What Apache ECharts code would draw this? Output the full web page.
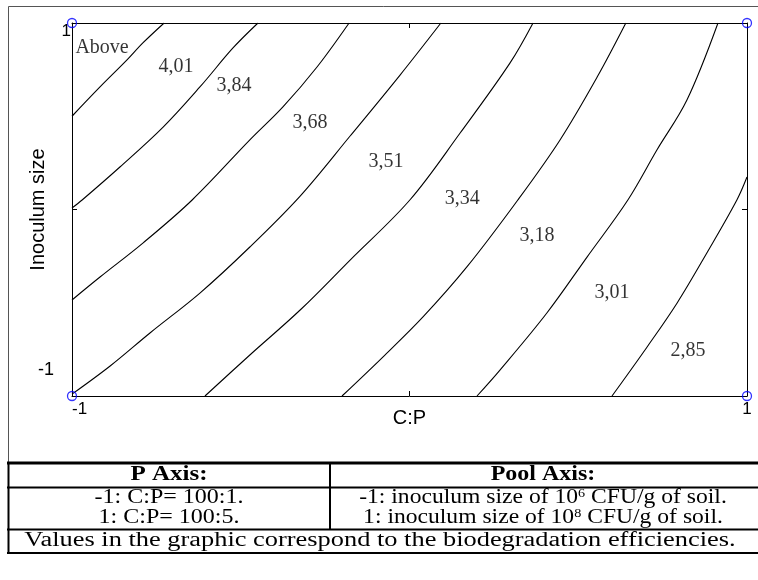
<!DOCTYPE html>
<html>
<head>
<meta charset="utf-8">
<script src="https://cdn.jsdelivr.net/npm/echarts@6/dist/echarts.min.js"></script>
<style>
  html, body { margin: 0; padding: 0; background: #ffffff; }
  #main { width: 758px; height: 580px; }
</style>
</head>
<body>
<div id="main"></div>
<script>
// Coded factors: C:P ratio (x) and inoculum size (y), both from -1 to 1
const xTicks = [-1, 1];
const xTickText = ['-1', '1'];
const yTicks = [-1, 1];
const yTickText = ['-1', '1'];

// Iso-efficiency lines, each as [C:P, inoculum] pairs
const iso1 = [[-1, 0.50], [-0.917, 0.657], [-0.837, 0.802], [-0.79, 0.893], [-0.727, 1]];
const iso2 = [[-1, 0.008], [-0.970, 0.051], [-0.858, 0.228], [-0.730, 0.442], [-0.621, 0.657], [-0.523, 0.866], [-0.449, 1]];
const iso3 = [[-1, -0.485], [-0.917, -0.362], [-0.790, -0.180], [-0.644, 0.051], [-0.473, 0.373], [-0.375, 0.550], [-0.274, 0.764], [-0.179, 1]];
const iso4 = [[-1, -0.99], [-0.887, -0.839], [-0.769, -0.662], [-0.621, -0.448], [-0.473, -0.201], [-0.324, 0.072], [-0.176, 0.394], [-0.028, 0.721], [0.093, 1]];
const iso5 = [[-0.606, -1], [-0.473, -0.780], [-0.324, -0.539], [-0.176, -0.271], [0.001, 0.051], [0.150, 0.410], [0.298, 0.786], [0.366, 1]];
const iso6 = [[-0.2, -1], [-0.079, -0.791], [0.040, -0.576], [0.170, -0.308], [0.321, 0.051], [0.446, 0.373], [0.556, 0.710], [0.641, 1]];
const iso7 = [[0.2, -1], [0.268, -0.861], [0.407, -0.555], [0.526, -0.255], [0.647, 0.051], [0.733, 0.319], [0.822, 0.587], [0.914, 1]];
const iso8 = [[0.6, -1], [0.704, -0.737], [0.793, -0.501], [0.881, -0.233], [0.970, 0.051], [1, 0.174]];
const isoLines = [iso1, iso2, iso3, iso4, iso5, iso6, iso7, iso8];

// Efficiency band labels and where each one sits
const bandLabels = ['Above', '4,01', '3,84', '3,68', '3,51', '3,34', '3,18', '3,01', '2,85'];
const bandAnchors = [[-0.911, 0.866], [-0.692, 0.764], [-0.520, 0.662], [-0.295, 0.464], [-0.070, 0.255],
                     [0.156, 0.056], [0.378, -0.142], [0.600, -0.448], [0.825, -0.759]];

// Design corner points
const cornerPoints = [[-1, 1], [1, 1], [-1, -1], [1, -1]];

// Legend table text
const tableHead = ['P Axis:', 'Pool Axis:'];
const pRows = ['-1: C:P= 100:1.', '1: C:P= 100:5.'];
const poolRows = ['-1: inoculum size of 10{sup|6} CFU/g of soil.', '1: inoculum size of 10{sup|8} CFU/g of soil.'];
const footNote = 'Values in the graphic correspond to the biodegradation efficiencies.';

const SANS = '"Liberation Sans", Arial, sans-serif';
const SERIF = '"Liberation Serif", "Times New Roman", serif';

function tickText(ticks, texts) {
  return function (v) {
    const i = ticks.indexOf(v);
    return i < 0 ? '' : texts[i];
  };
}

const chart = echarts.init(document.getElementById('main'), null, { renderer: 'canvas' });

const lineSeries = isoLines.map(function (pts) {
  return {
    type: 'line',
    data: pts,
    smooth: 0.35,
    showSymbol: false,
    symbol: 'none',
    silent: true,
    lineStyle: { color: '#000', width: 1.1 },
    z: 3
  };
});

const tableText = { fontFamily: SERIF, fontSize: 20, fill: '#000', align: 'center', verticalAlign: 'middle' };
function txt(text, x, y, sx, extra) {
  return { type: 'text', x: x, y: y, scaleX: sx, silent: true, style: Object.assign({ text: text }, tableText, extra || {}) };
}
function hline(x1, x2, y, w) {
  return { type: 'line', silent: true, shape: { x1: x1, y1: y, x2: x2, y2: y }, style: { stroke: '#000', lineWidth: w } };
}
function vline(x, y1, y2, w) {
  return { type: 'line', silent: true, shape: { x1: x, y1: y1, x2: x, y2: y2 }, style: { stroke: '#000', lineWidth: w } };
}
const supRich = { sup: { fontFamily: SERIF, fontSize: 12, verticalAlign: 'top', fill: '#000' } };

const option = {
  animation: false,
  backgroundColor: '#ffffff',
  grid: { left: 72, right: 11, top: 23, bottom: 184, show: false },
  xAxis: [
    {
      type: 'value', min: -1, max: 1, interval: 1, position: 'bottom',
      axisLine: { show: true, onZero: false, lineStyle: { color: '#000', width: 1 } },
      axisTick: { show: true, inside: true, length: 5, lineStyle: { color: '#000' } },
      splitLine: { show: false },
      axisLabel: {
        formatter: tickText(xTicks, xTickText), fontFamily: SANS, fontSize: 17, color: '#000', margin: 5,
        showMinLabel: true, showMaxLabel: true, alignMinLabel: 'left', alignMaxLabel: 'center'
      },
      name: 'C:P', nameLocation: 'middle', nameGap: 12, nameMoveOverlap: false,
      nameTextStyle: { fontFamily: SANS, fontSize: 20, color: '#000', verticalAlign: 'top' }
    },
    {
      type: 'value', min: -1, max: 1, interval: 1, position: 'top',
      axisLine: { show: true, onZero: false, lineStyle: { color: '#000', width: 1 } },
      axisTick: { show: true, inside: true, length: 5, lineStyle: { color: '#000' } },
      splitLine: { show: false }, axisLabel: { show: false }
    }
  ],
  yAxis: [
    {
      type: 'value', min: -1, max: 1, interval: 1, position: 'left',
      axisLine: { show: true, onZero: false, lineStyle: { color: '#000', width: 1 } },
      axisTick: { show: true, inside: true, length: 5, lineStyle: { color: '#000' } },
      splitLine: { show: false },
      axisLabel: {
        formatter: function (v) {
          const t = tickText(yTicks, yTickText)(v);
          return v === yTicks[0] ? '{lo|' + t + '}' : t;
        },
        rich: { lo: { fontFamily: SANS, fontSize: 18, color: '#000', padding: [0, 17, 17, 0] } },
        fontFamily: SANS, fontSize: 17, color: '#000', margin: 1,
        showMinLabel: true, showMaxLabel: true, verticalAlignMinLabel: 'bottom', verticalAlignMaxLabel: 'top'
      },
      name: 'Inoculum size', nameLocation: 'middle', nameGap: 24, nameMoveOverlap: false,
      nameTextStyle: { fontFamily: SANS, fontSize: 20, color: '#000' }
    },
    {
      type: 'value', min: -1, max: 1, interval: 1, position: 'right',
      axisLine: { show: true, onZero: false, lineStyle: { color: '#000', width: 1 } },
      axisTick: { show: true, inside: true, length: 5, lineStyle: { color: '#000' } },
      splitLine: { show: false }, axisLabel: { show: false }
    }
  ],
  series: lineSeries.concat([
    {
      type: 'scatter',
      data: bandAnchors.map(function (p, i) { return { value: p, name: bandLabels[i] }; }),
      symbolSize: 1,
      silent: true,
      itemStyle: { color: 'rgba(0,0,0,0)' },
      label: { show: true, position: 'inside', formatter: '{b}', fontFamily: SERIF, fontSize: 20, color: '#000' },
      z: 4
    },
    {
      type: 'scatter',
      data: cornerPoints,
      symbol: 'circle',
      symbolSize: 9,
      clip: false,
      silent: true,
      itemStyle: { color: 'rgba(0,0,0,0)', borderColor: '#0000ff', borderWidth: 1.3 },
      z: 6
    }
  ]),
  graphic: [
    // outer frame of the chart panel
    { type: 'rect', silent: true, shape: { x: 8.5, y: 6.5, width: 760, height: 456 }, style: { fill: null, stroke: '#555', lineWidth: 1 } },
    // legend table rules
    hline(7, 758, 463, 3),
    hline(7, 758, 487.5, 2),
    hline(7, 758, 529.5, 2),
    hline(7, 758, 553, 2),
    vline(8.5, 462, 554, 2),
    vline(330, 462, 530, 2),
    // legend table text
    txt(tableHead[0], 169, 475, 1.25, { fontWeight: 'bold' }),
    txt(tableHead[1], 543, 475, 1.2, { fontWeight: 'bold' }),
    txt(pRows[0], 169, 498, 1.2),
    txt(pRows[1], 169, 518, 1.2),
    txt(poolRows[0], 543, 498, 1.18, { rich: supRich }),
    txt(poolRows[1], 543, 518, 1.18, { rich: supRich }),
    txt(footNote, 380, 541, 1.32)
  ]
};

chart.setOption(option);
</script>
</body>
</html>
